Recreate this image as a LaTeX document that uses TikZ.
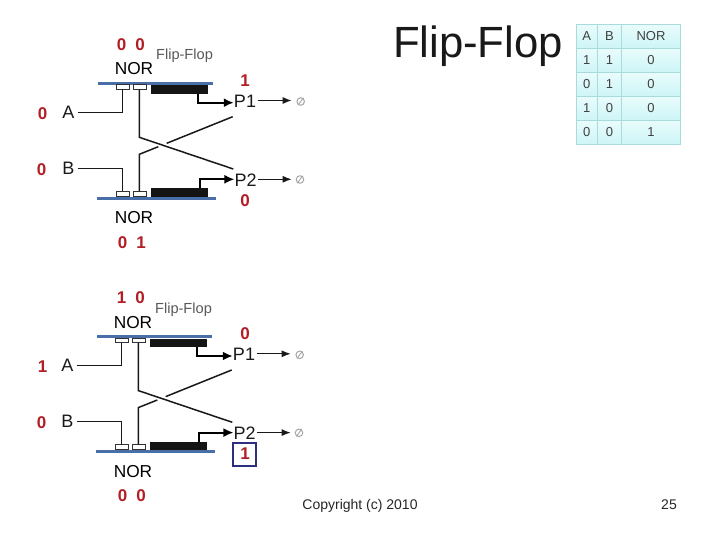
\documentclass[tikz,border=0pt]{standalone}
\usepackage{fontspec}
\setmainfont{Liberation Sans}
\usetikzlibrary{arrows.meta}
\definecolor{redbit}{HTML}{B21E24}
\definecolor{barblue}{HTML}{4A6FA8}
\definecolor{tabline}{HTML}{A9DADC}
\definecolor{tabtop}{HTML}{EAFCFC}
\definecolor{tabbot}{HTML}{CDF5F7}
\definecolor{boxblue}{HTML}{2E2F7F}
\tikzset{
  lbl/.style={inner sep=0pt,anchor=center,font=\fontsize{18}{18}\selectfont,text=black!90},
  norlbl/.style={inner sep=0pt,anchor=center,font=\fontsize{17.3}{18}\selectfont,text=black},
  smalltitle/.style={inner sep=0pt,anchor=center,font=\fontsize{14.6}{15}\selectfont,text=black!65},
  bit/.style={inner sep=0pt,anchor=center,font=\fontsize{17}{17}\selectfont\bfseries,text=redbit},
  foot/.style={inner sep=0pt,anchor=center,font=\fontsize{14}{14}\selectfont,text=black!85},
  wire/.style={draw=black!90,line width=1.5pt},
  thickarrow/.style={draw=black,line width=2.1pt,-{Latex[length=10pt,width=9pt]}},
  thinarrow/.style={draw=black!90,line width=1.2pt,-{Latex[length=9pt,width=7pt]}},
  rail/.style={fill=barblue,draw=none},
  block/.style={fill=black!92,draw=none},
  gate/.style={draw=black!80,fill=white,line width=1pt},
  cell/.style={draw=tabline,line width=.8pt,top color=tabtop,bottom color=tabbot},
  celltxt/.style={inner sep=0pt,anchor=center,font=\fontsize{13}{13}\selectfont,text=black!75},
  nullmark/.style={draw=black!35,line width=1pt,circle,inner sep=0pt,minimum size=7.5pt},
  framebox/.style={draw=boxblue,line width=2.4pt,minimum width=23pt,minimum height=23pt,inner sep=0pt}
}
\newcommand{\flipcircuit}[1]{%
  \fill[rail] (98.3,81.9) rectangle (213.3,84.7);
  \fill[rail] (96.5,196.9) rectangle (215.7,199.9);
  \fill[block] (150.7,85.5) rectangle (207.7,94);
  \fill[block] (150.7,188.3) rectangle (207.7,196.8);
  \node[lbl] (#1A) at (68.3,112.3) {A};
  \node[lbl] (#1B) at (68.3,168.3) {B};
  \node[lbl] (#1P1) at (245,101.5) {P1};
  \node[lbl] (#1P2) at (245.7,179.8) {P2};
  \node[norlbl] (#1nort) at (134,69) {NOR};
  \node[norlbl] (#1norb) at (134,218) {NOR};
  \node[smalltitle] (#1ff) at (184.5,56) {Flip-Flop};
  \draw[gate] (116,85) rectangle (129.3,89.5);
  \draw[gate] (133.3,85) rectangle (146,89.5);
  \draw[gate] (116,191.3) rectangle (129.3,196.3);
  \draw[gate] (133.3,191.3) rectangle (146,196.3);
  \coordinate (#1g1) at (122.7,89.5);
  \coordinate (#1g2) at (139.3,89.5);
  \coordinate (#1g3) at (122.3,191.3);
  \coordinate (#1g4) at (139.3,191.3);
  \coordinate (#1p1in) at (232.7,116.7);
  \coordinate (#1p2in) at (233.3,169);
  \coordinate (#1k1) at (198.3,102.7);
  \coordinate (#1k2) at (200,179.3);
  \draw[wire] ([xshift=3pt]#1A.east |- 0,112.3) -- (122.7,112.3) -- (#1g1);
  \draw[wire] ([xshift=3pt]#1B.east |- 0,168.3) -- (122.3,168.3) -- (#1g3);
  \draw[wire] (#1g2) -- (139.3,137.3) -- (#1p2in);
  \draw[wire] (#1g4) -- (139.3,154.3) -- (158.3,146.7);
  \draw[wire] (166.7,143.3) -- (#1p1in);
  \draw[thickarrow] (198.3,94) -- (#1k1) -- (#1k1 -| #1P1.west);
  \draw[thickarrow] (200,188.3) -- (#1k2) -- (#1k2 -| #1P2.west);
  \node[nullmark] (#1n1) at (300.7,101.5) {};
  \node[nullmark] (#1n2) at (300,179.5) {};
  \draw[draw=black!35,line width=.9pt] (298,105.2) -- (303.4,97.8);
  \draw[draw=black!35,line width=.9pt] (297.3,183.2) -- (302.7,175.8);
  \draw[thinarrow] ([xshift=1.5pt]#1P1.east |- 0,100.5) -- (291.7,100.5);
  \draw[thinarrow] ([xshift=1.5pt]#1P2.east |- 0,179.3) -- (291.7,179.3);
}
\begin{document}
\begin{tikzpicture}[x=1pt,y=-1pt]
\useasboundingbox (0,0) rectangle (720,540);
\fill[white] (0,0) rectangle (720,540);

\begin{scope}
\flipcircuit{u}
\end{scope}
\node[bit] (ua) at (121.7,45) {0};
\node[bit] (ub) at (140,45) {0};
\node[bit] (uc) at (245,81) {1};
\node[bit] (ud) at (42.7,114) {0};
\node[bit] (ue) at (41.7,169.3) {0};
\node[bit] (uf) at (245,200.7) {0};
\node[bit] (ug) at (122.7,242.7) {0};
\node[bit] (uh) at (141,242.7) {1};

\begin{scope}[shift={(-1,253.3)}]
\flipcircuit{v}
\end{scope}
\node[bit] (va) at (121.7,297.7) {1};
\node[bit] (vb) at (140,297.7) {0};
\node[bit] (vc) at (245,334) {0};
\node[bit] (vd) at (42.7,366.7) {1};
\node[bit] (ve) at (41.7,422.3) {0};
\node[framebox] (vbox) at (244.4,454.2) {};
\node[bit] (vf) at (245,454) {1};
\node[bit] (vg) at (122.7,495.7) {0};
\node[bit] (vh) at (141,495.7) {0};

\node[inner sep=0pt,anchor=center,font=\fontsize{43.7}{44}\selectfont,text=black!90] (title) at (478,46) {Flip-Flop};
\node[foot] (copy) at (360,505.5) {Copyright (c) 2010};
\node[foot] (page) at (669,505) {25};

% table
\foreach \ya/\yb in {24.3/48.3,48.3/72.3,72.3/96.3,96.3/120.3,120.3/144.3}{
  \draw[cell] (576,\ya) rectangle (597.3,\yb);
  \draw[cell] (597.3,\ya) rectangle (621.7,\yb);
  \draw[cell] (621.7,\ya) rectangle (680,\yb);
}
\foreach \r/\y/\a/\b/\c in {0/36/A/B/NOR,1/60/1/1/0,2/84/0/1/0,3/108/1/0/0,4/132/0/0/1}{
  \node[celltxt] (ca\r) at (586.7,\y) {\a};
  \node[celltxt] (cb\r) at (609.5,\y) {\b};
  \node[celltxt] (cc\r) at (651,\y) {\c};
}
\end{tikzpicture}
\end{document}
